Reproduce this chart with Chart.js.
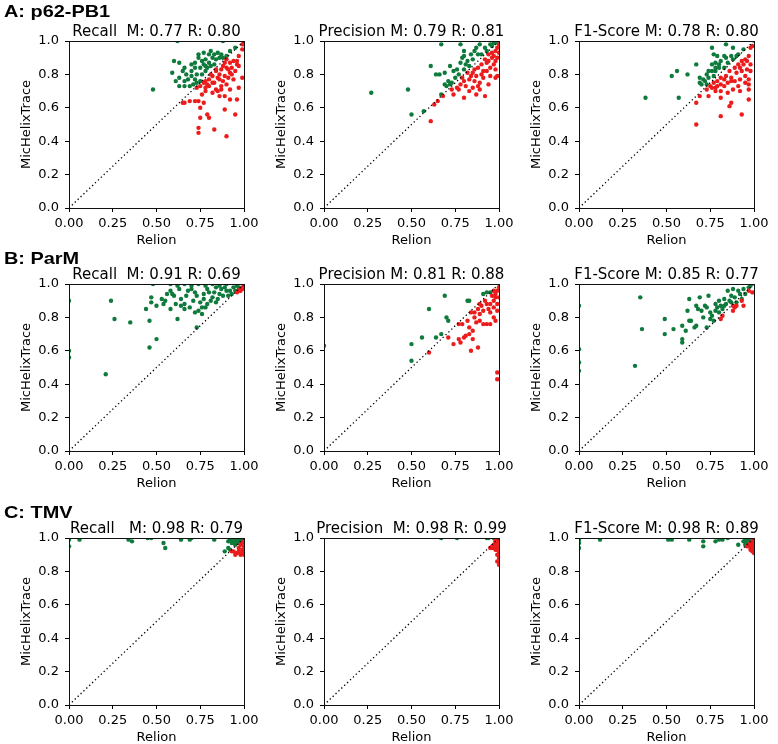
<!DOCTYPE html>
<html>
<head>
<meta charset="utf-8">
<script src="https://cdn.jsdelivr.net/npm/chart.js@4.4.0/dist/chart.umd.min.js"></script>
<style>
  body { margin: 0; background: #fff; width: 778px; height: 744px; overflow: hidden; position: relative; }
  canvas { position: absolute; }
  .row-label { position: absolute; left: 4px; font: bold 17px "Liberation Sans", Arial, sans-serif; line-height: 17px; color: #000; z-index: 2; transform: scaleX(1.17); transform-origin: 0 0; white-space: nowrap; }
</style>
</head>
<body>
<script>
// Row and panel labels
const rowLabels = ['A: p62-PB1', 'B: ParM', 'C: TMV'];
const panelTitles = [
    'Recall  M: 0.77 R: 0.80', 'Precision M: 0.79 R: 0.81', 'F1-Score M: 0.78 R: 0.80',
    'Recall  M: 0.91 R: 0.69', 'Precision M: 0.81 R: 0.88', 'F1-Score M: 0.85 R: 0.77',
    'Recall   M: 0.98 R: 0.79', 'Precision  M: 0.98 R: 0.99', 'F1-Score M: 0.98 R: 0.89'
];
const xTicks = [0, 0.25, 0.5, 0.75, 1];
const yTicks = [0, 0.2, 0.4, 0.6, 0.8, 1];
const diagonal = [[0, 0], [1, 1]];

// [Relion, MicHelixTrace] pairs; green = MicHelixTrace higher, red = Relion higher
const p62RecallGreen = [[0.48,0.71],[0.62,1.0],[0.88,1.0],[0.60,0.88],[0.63,0.87],[0.59,0.81],[0.63,0.78],[0.66,0.76],[0.63,0.73],[0.66,0.73],[0.69,0.73],[0.71,0.74],[0.70,0.86],[0.72,0.87],[0.74,0.92],[0.77,0.93],[0.81,0.94],[0.85,0.93],[0.87,0.92],[0.90,0.91],[0.76,0.88],[0.78,0.89],[0.80,0.87],[0.82,0.90],[0.75,0.84],[0.78,0.85],[0.83,0.86],[0.73,0.80],[0.76,0.80],[0.78,0.82],[0.72,0.77],[0.75,0.76],[0.67,0.80],[0.70,0.82],[0.92,0.94],[0.95,0.96],[0.66,0.84],[0.68,0.77],[0.74,0.90],[0.80,0.92],[0.84,0.89],[0.86,0.90],[0.79,0.84],[0.70,0.79],[0.61,0.76],[0.72,0.84],[0.77,0.86],[0.81,0.85],[0.88,0.90],[0.83,0.92],[0.65,0.82],[0.73,0.75]];
const p62RecallRed = [[0.99,0.98],[0.99,0.95],[1.0,0.99],[0.96,0.88],[0.97,0.91],[0.94,0.88],[0.92,0.87],[0.89,0.87],[0.90,0.84],[0.87,0.83],[0.84,0.82],[0.86,0.80],[0.82,0.79],[0.80,0.77],[0.78,0.76],[0.77,0.75],[0.75,0.73],[0.78,0.72],[0.80,0.73],[0.83,0.75],[0.86,0.77],[0.89,0.79],[0.92,0.81],[0.95,0.82],[0.97,0.85],[0.99,0.78],[0.94,0.77],[0.90,0.74],[0.87,0.71],[0.84,0.71],[0.82,0.69],[0.85,0.70],[0.78,0.70],[0.76,0.68],[0.89,0.67],[0.92,0.65],[0.96,0.65],[0.89,0.59],[0.95,0.56],[0.77,0.63],[0.74,0.64],[0.72,0.64],[0.69,0.64],[0.66,0.63],[0.65,0.63],[0.75,0.60],[0.75,0.54],[0.79,0.56],[0.80,0.54],[0.74,0.48],[0.74,0.45],[0.83,0.47],[0.90,0.43],[0.92,0.71],[0.97,0.72],[0.86,0.67],[0.73,0.72],[0.90,0.89],[0.93,0.84],[0.84,0.83],[0.82,0.75],[0.88,0.85],[0.91,0.83],[0.85,0.78],[0.81,0.80],[0.79,0.74],[0.88,0.76],[0.93,0.80],[0.96,0.86],[0.91,0.78],[0.87,0.73]];

const p62PrecisionGreen = [[0.27,0.69],[0.48,0.71],[0.50,0.56],[0.57,0.58],[0.61,0.85],[0.64,0.80],[0.66,0.80],[0.69,0.81],[0.67,0.98],[0.78,0.98],[0.89,0.98],[0.95,0.98],[0.98,0.99],[0.72,0.85],[0.76,0.83],[0.77,0.80],[0.80,0.94],[0.80,0.91],[0.82,0.88],[0.85,0.89],[0.88,0.92],[0.90,0.92],[0.93,0.94],[0.83,0.85],[0.80,0.83],[0.71,0.76],[0.72,0.74],[0.73,0.75],[0.70,0.73],[0.67,0.68],[0.78,0.87],[0.86,0.94],[0.96,0.97],[0.97,0.99],[0.74,0.82],[0.79,0.90],[0.84,0.92],[0.87,0.96],[0.75,0.78],[0.81,0.86],[0.69,0.74],[0.92,0.96]];
const p62PrecisionRed = [[0.61,0.52],[0.63,0.62],[0.65,0.64],[0.68,0.67],[0.74,0.68],[0.77,0.71],[0.80,0.66],[0.83,0.70],[0.87,0.68],[0.92,0.67],[0.78,0.74],[0.80,0.76],[0.83,0.77],[0.86,0.76],[0.89,0.75],[0.94,0.74],[0.98,0.78],[0.85,0.81],[0.88,0.84],[0.91,0.82],[0.95,0.84],[0.98,0.88],[0.96,0.90],[0.93,0.87],[0.90,0.86],[0.98,0.94],[0.99,0.96],[0.97,0.91],[0.87,0.79],[0.91,0.78],[0.81,0.73],[0.85,0.72],[0.89,0.71],[0.98,0.83],[0.95,0.79],[0.73,0.71],[0.92,0.89],[0.94,0.92],[0.99,0.79],[1.0,0.98],[0.96,0.93],[0.99,0.90],[0.97,0.86],[0.93,0.82],[0.90,0.80],[0.84,0.79],[0.82,0.81],[0.79,0.78],[0.76,0.72],[0.88,0.73],[1.0,0.93],[0.94,0.88],[0.86,0.83]];

const p62F1Green = [[0.38,0.66],[0.53,0.79],[0.56,0.82],[0.57,0.66],[0.62,0.80],[0.67,0.86],[0.69,0.78],[0.69,0.75],[0.76,0.96],[0.77,0.92],[0.79,0.91],[0.84,0.98],[0.88,0.96],[0.83,0.91],[0.87,0.91],[0.91,0.92],[0.76,0.86],[0.78,0.87],[0.81,0.88],[0.85,0.87],[0.88,0.89],[0.73,0.80],[0.76,0.82],[0.78,0.82],[0.80,0.84],[0.83,0.84],[0.72,0.76],[0.74,0.78],[0.77,0.79],[0.70,0.74],[0.73,0.74],[0.90,0.91],[0.94,0.95],[0.80,0.86],[0.84,0.90],[0.78,0.84],[0.74,0.82],[0.71,0.77]];
const p62F1Red = [[0.99,0.97],[0.98,0.96],[0.97,0.91],[0.95,0.89],[0.93,0.88],[0.98,0.86],[0.96,0.83],[0.98,0.82],[0.91,0.86],[0.89,0.84],[0.86,0.82],[0.93,0.82],[0.95,0.79],[0.97,0.77],[0.97,0.74],[0.87,0.78],[0.84,0.79],[0.81,0.78],[0.79,0.76],[0.77,0.75],[0.75,0.73],[0.78,0.72],[0.81,0.74],[0.85,0.75],[0.89,0.76],[0.92,0.77],[0.91,0.73],[0.95,0.75],[0.88,0.71],[0.85,0.69],[0.81,0.70],[0.78,0.70],[0.74,0.67],[0.69,0.67],[0.67,0.63],[0.67,0.50],[0.87,0.63],[0.86,0.61],[0.81,0.66],[0.97,0.65],[0.81,0.55],[0.93,0.56],[0.97,0.71],[0.92,0.70],[0.83,0.73],[0.94,0.86],[0.90,0.81],[0.87,0.76],[0.83,0.77],[0.79,0.73],[0.76,0.72],[0.73,0.71],[0.96,0.88],[0.92,0.84]];

const parmRecallGreen = [[0.0,0.90],[0.0,0.60],[0.0,0.56],[0.21,0.46],[0.24,0.90],[0.26,0.79],[0.35,0.77],[0.44,0.85],[0.46,0.62],[0.50,0.67],[0.46,0.78],[0.47,0.92],[0.48,1.0],[0.47,0.89],[0.50,0.87],[0.53,0.91],[0.55,0.90],[0.58,0.96],[0.58,0.85],[0.60,0.93],[0.61,0.88],[0.62,0.79],[0.66,0.85],[0.64,0.91],[0.67,0.93],[0.70,0.97],[0.73,0.93],[0.72,0.83],[0.75,0.89],[0.77,0.91],[0.78,0.86],[0.80,0.95],[0.82,0.92],[0.84,0.98],[0.86,0.94],[0.89,0.98],[0.92,0.96],[0.94,0.98],[0.96,0.99],[0.73,0.74],[0.56,0.94],[0.59,0.94],[0.63,0.97],[0.66,0.88],[0.69,0.86],[0.71,0.90],[0.74,0.84],[0.76,0.86],[0.77,0.94],[0.79,0.88],[0.81,0.90],[0.83,0.95],[0.85,0.91],[0.87,0.97],[0.88,0.93],[0.91,0.93],[0.93,0.94],[0.95,0.96],[0.90,0.96],[0.97,0.98],[0.58,1.0],[0.66,1.0],[0.74,1.0],[0.82,1.0],[0.90,1.0],[0.62,0.99],[0.70,0.99],[0.78,0.99],[0.86,0.99],[0.76,0.82],[0.68,0.96],[0.72,0.95],[0.79,0.97],[0.84,0.89],[0.54,0.88],[0.64,0.87]];
const parmRecallRed = [[0.96,0.95],[0.97,0.96],[0.98,0.97],[0.99,0.98],[1.0,0.99],[0.98,0.96],[0.99,0.97]];

const parmPrecisionGreen = [[0.0,0.63],[0.50,0.64],[0.50,0.54],[0.56,0.68],[0.60,0.85],[0.64,0.68],[0.67,0.70],[0.69,0.93],[0.70,0.80],[0.71,0.78],[0.82,0.90],[0.83,0.90],[0.91,0.94],[0.93,0.95],[0.95,0.95]];
const parmPrecisionRed = [[0.60,0.59],[0.71,0.68],[0.74,0.64],[0.77,0.67],[0.78,0.65],[0.80,0.68],[0.81,0.69],[0.83,0.70],[0.85,0.67],[0.88,0.62],[0.84,0.60],[0.85,0.72],[0.83,0.74],[0.79,0.76],[0.77,0.76],[0.82,0.78],[0.84,0.83],[0.86,0.80],[0.87,0.77],[0.89,0.78],[0.91,0.76],[0.93,0.76],[0.95,0.76],[0.97,0.80],[0.98,0.78],[0.99,0.84],[0.88,0.85],[0.90,0.87],[0.91,0.84],[0.94,0.85],[0.95,0.88],[0.97,0.90],[0.98,0.92],[0.99,0.96],[0.98,0.94],[0.97,0.96],[0.99,0.88],[1.0,0.98],[0.86,0.83],[0.89,0.82],[0.93,0.88],[0.95,0.83],[0.99,0.47],[0.99,0.43],[0.89,0.88],[0.97,0.86],[0.92,0.90],[1.0,0.92],[0.96,0.93]];

const parmF1Green = [[0.0,0.87],[0.0,0.61],[0.0,0.53],[0.0,0.48],[0.32,0.51],[0.35,0.92],[0.36,0.73],[0.49,0.79],[0.49,0.70],[0.54,0.73],[0.59,0.75],[0.59,0.67],[0.59,0.65],[0.61,0.72],[0.62,0.84],[0.63,0.91],[0.63,0.78],[0.64,0.78],[0.66,0.74],[0.67,0.75],[0.67,0.87],[0.68,0.85],[0.69,0.92],[0.70,0.84],[0.72,0.87],[0.73,0.86],[0.74,0.93],[0.73,0.74],[0.75,0.83],[0.77,0.78],[0.78,0.88],[0.78,0.84],[0.80,0.90],[0.81,0.87],[0.83,0.91],[0.84,0.88],[0.85,0.96],[0.87,0.93],[0.88,0.97],[0.89,0.92],[0.91,0.96],[0.92,0.94],[0.94,0.97],[0.95,0.94],[0.97,0.98],[0.98,0.99],[0.71,0.80],[0.76,0.81],[0.80,0.83],[0.82,0.85],[0.87,0.89],[0.90,0.89],[0.93,0.91],[0.79,0.86],[0.83,0.87],[0.86,0.90],[0.75,0.79]];
const parmF1Red = [[0.81,0.79],[0.82,0.81],[0.88,0.84],[0.89,0.86],[0.90,0.87],[0.93,0.90],[0.94,0.87],[0.97,0.96],[0.99,0.95],[0.88,0.87]];

const tmvRecallGreen = [[0.0,0.95],[0.0,0.99],[0.06,0.99],[0.34,0.99],[0.36,0.98],[0.45,1.0],[0.47,1.0],[0.54,0.97],[0.55,0.94],[0.64,0.99],[0.69,0.99],[0.70,1.0],[0.83,0.99],[0.89,0.92],[0.91,0.94],[0.92,0.93],[0.92,0.99],[0.93,0.97],[0.94,1.0],[0.95,0.98],[0.96,0.99],[0.97,0.97],[0.98,1.0],[0.93,0.99],[0.95,0.96],[0.97,0.99],[0.99,1.0],[0.91,0.98],[0.96,1.0],[0.94,0.97],[0.98,0.98]];
const tmvRecallRed = [[0.94,0.92],[0.96,0.91],[0.98,0.90],[0.99,0.93],[1.0,0.95],[0.97,0.94],[0.99,0.97],[0.95,0.90],[1.0,0.90],[0.98,0.96],[1.0,0.98],[0.97,0.92],[0.99,0.91],[0.93,0.92]];

const tmvPrecisionGreen = [[0.67,1.0],[0.76,1.0],[0.93,1.0],[0.94,1.0],[0.97,1.0],[0.98,1.0]];
const tmvPrecisionRed = [[0.96,0.95],[0.97,0.96],[0.98,0.99],[0.99,0.98],[1.0,0.97],[0.97,0.94],[0.98,0.93],[0.99,0.95],[1.0,0.92],[0.99,0.90],[1.0,0.88],[1.0,0.84],[0.98,0.97],[0.99,0.99],[0.96,0.94],[0.97,0.95],[1.0,0.95],[0.99,0.93],[1.0,0.99],[0.98,0.95],[0.99,0.86],[1.0,0.90],[0.95,0.94],[0.98,0.98]];

const tmvF1Green = [[0.0,0.94],[0.0,0.97],[0.0,0.99],[0.12,0.99],[0.51,0.99],[0.53,0.99],[0.63,0.99],[0.71,0.98],[0.71,0.95],[0.78,0.98],[0.80,0.99],[0.82,0.99],[0.85,1.0],[0.91,0.96],[0.95,0.96],[0.96,0.97],[0.97,0.99],[0.98,1.0],[0.95,0.99],[0.96,1.0],[0.94,0.98]];
const tmvF1Red = [[0.97,0.96],[0.98,0.95],[0.99,0.98],[0.99,0.96],[1.0,0.97],[0.98,0.93],[0.99,0.94],[1.0,0.91],[0.97,0.95],[1.0,0.99],[0.98,0.97],[0.99,0.92],[1.0,0.95],[0.96,0.95]];

const greenSets = [p62RecallGreen, p62PrecisionGreen, p62F1Green, parmRecallGreen, parmPrecisionGreen, parmF1Green, tmvRecallGreen, tmvPrecisionGreen, tmvF1Green];
const redSets = [p62RecallRed, p62PrecisionRed, p62F1Red, parmRecallRed, parmPrecisionRed, parmF1Red, tmvRecallRed, tmvPrecisionRed, tmvF1Red];

// Layout (page pixels)
const plotLefts = [69, 324, 579];
const plotTops = [41, 284, 538];
const plotW = 175, plotH = 167;
const marginL = 69, marginR = 69, marginT = 36, marginB = 44;
const labelTops = [3, 250, 504];

const GREEN = '#0e7a3c';
const RED = '#ec1c1c';
const axisFont = { family: 'DejaVu Sans', size: 13 };

const toPt = p => ({ x: p[0], y: p[1] });

// Draw the axes box
const framePlugin = {
    id: 'frame',
    afterDatasetsDraw(chart) {
        const { ctx, chartArea: a } = chart;
        ctx.save();
        ctx.strokeStyle = '#111';
        ctx.lineWidth = 1;
        ctx.strokeRect(Math.round(a.left) + 0.5, Math.round(a.top) + 0.5, a.right - a.left, a.bottom - a.top);
        ctx.restore();
    }
};

rowLabels.forEach((txt, i) => {
    const div = document.createElement('div');
    div.className = 'row-label';
    div.style.top = labelTops[i] + 'px';
    div.textContent = txt;
    document.body.appendChild(div);
});

for (let i = 0; i < 9; i++) {
    const row = Math.floor(i / 3), col = i % 3;
    const canvas = document.createElement('canvas');
    canvas.width = marginL + plotW + marginR;
    canvas.height = marginT + plotH + marginB;
    canvas.style.left = (plotLefts[col] - marginL) + 'px';
    canvas.style.top = (plotTops[row] - marginT) + 'px';
    document.body.appendChild(canvas);
    renderPanel(canvas, panelTitles[i], greenSets[i], redSets[i]);
}

function renderPanel(canvas, title, green, red) {
    new Chart(canvas, {
        type: 'scatter',
        data: {
            datasets: [
                {
                    data: diagonal.map(toPt),
                    showLine: true,
                    borderColor: '#000',
                    borderWidth: 1.3,
                    borderDash: [1.3, 2.7],
                    pointRadius: 0,
                },
                { data: red.map(toPt), backgroundColor: RED, pointRadius: 2.2, pointBorderWidth: 0, clip: 0 },
                { data: green.map(toPt), backgroundColor: GREEN, pointRadius: 2.2, pointBorderWidth: 0, clip: 0 },
            ],
        },
        options: {
            responsive: false,
            animation: false,
            devicePixelRatio: 1,
            layout: { padding: 0 },
            plugins: {
                legend: { display: false },
                tooltip: { enabled: false },
                title: {
                    display: true,
                    text: title,
                    color: '#000',
                    font: { family: 'DejaVu Sans', size: 15, weight: 'normal', lineHeight: 1 },
                    padding: { top: 19.2, bottom: 1.8 },
                },
            },
            scales: {
                x: {
                    type: 'linear',
                    min: 0,
                    max: 1,
                    afterBuildTicks: s => { s.ticks = xTicks.map(v => ({ value: v })); },
                    afterFit: s => { s.height = marginB; },
                    ticks: { callback: v => v.toFixed(2), font: axisFont, color: '#000', padding: 4, maxRotation: 0, autoSkip: false },
                    grid: { drawOnChartArea: false, tickLength: 4, color: '#000' },
                    border: { display: false },
                    title: { display: true, text: 'Relion', font: axisFont, color: '#000', padding: { top: 0, bottom: 4 } },
                },
                y: {
                    type: 'linear',
                    min: 0,
                    max: 1,
                    afterBuildTicks: s => { s.ticks = yTicks.map(v => ({ value: v })); },
                    afterFit: s => { s.width = marginL; },
                    ticks: { callback: v => v.toFixed(1), font: axisFont, color: '#000', padding: 6, autoSkip: false },
                    grid: { drawOnChartArea: false, tickLength: 4, color: '#000' },
                    border: { display: false },
                    title: { display: true, text: 'MicHelixTrace', font: axisFont, color: '#000', padding: { top: 19, bottom: 0 } },
                },
                // empty right axis keeps the plot centred under its title
                yRight: {
                    position: 'right',
                    min: 0,
                    max: 1,
                    ticks: { display: false },
                    grid: { display: false },
                    border: { display: false },
                    afterFit: s => { s.width = marginR; },
                },
            },
        },
        plugins: [framePlugin],
    });
}
</script>
</body>
</html>
